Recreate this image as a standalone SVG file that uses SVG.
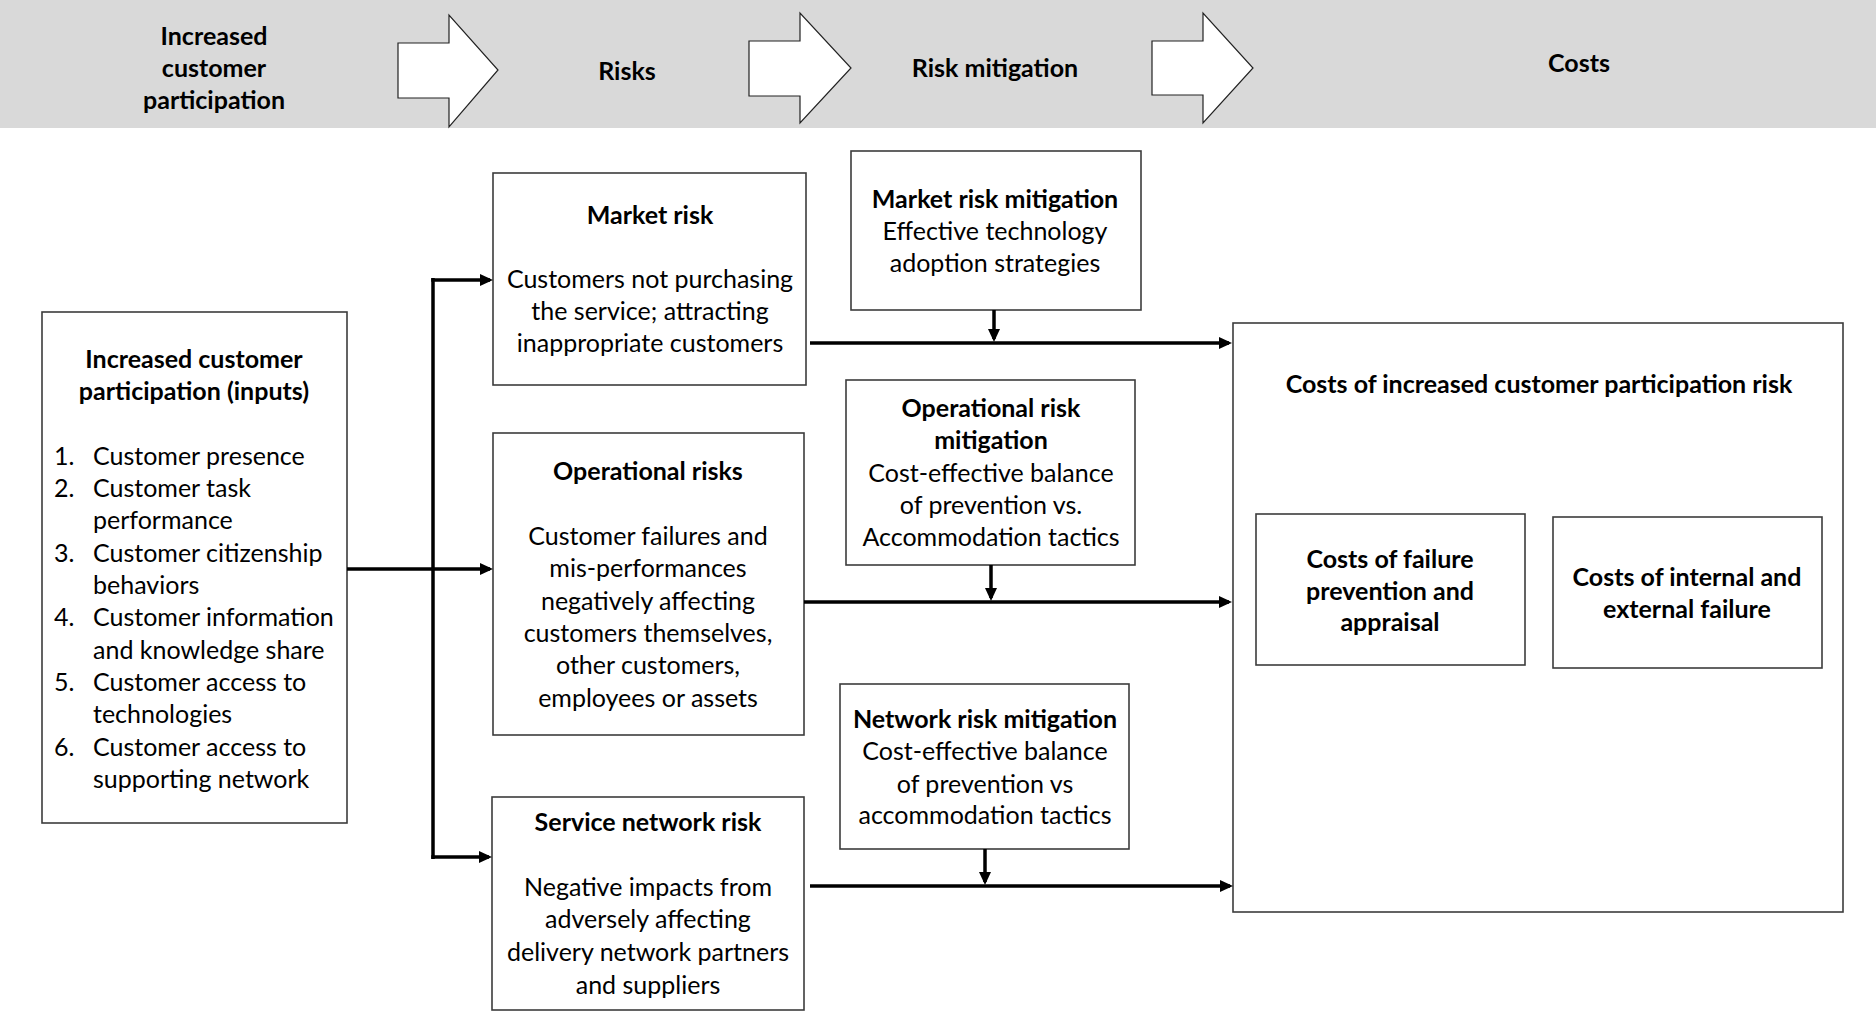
<svg xmlns="http://www.w3.org/2000/svg" width="1876" height="1012" viewBox="0 0 1876 1012">
<defs>
<style>
.box{fill:#fff;stroke:#3c3c3c;stroke-width:1.6}
.t{font-family:Lato,"Open Sans",sans-serif;font-size:25px;fill:#000;text-anchor:middle}
.l{text-anchor:start}
.b{font-weight:bold}
.conn{stroke:#000;stroke-width:3.5;fill:none}
.harrow{fill:#fff;stroke:#222;stroke-width:1.2}
</style>
<marker id="ah" markerUnits="userSpaceOnUse" markerWidth="14" markerHeight="12" viewBox="0 0 14 12" refX="10" refY="6" orient="auto">
<path d="M0,0 L13,6 L0,12 z" fill="#000"/>
</marker>
</defs>
<rect width="1876" height="1012" fill="#fff"/>
<g id="header">
<rect x="0" y="0" width="1876" height="128" fill="#d9d9d9"/>
<polygon class="harrow" points="398,43 449,43 449,15 498,70 449,127 449,98 398,98"/>
<polygon class="harrow" points="749,41 800,41 800,13 851,68 800,123 800,96 749,96"/>
<polygon class="harrow" points="1152,41 1203,41 1203,13 1253,68 1203,123 1203,95 1152,95"/>
<text class="t b" x="214" y="45">Increased</text>
<text class="t b" x="214" y="77">customer</text>
<text class="t b" x="214" y="109">participation</text>
<text class="t b" x="627" y="80">Risks</text>
<text class="t b" x="995" y="77">Risk mitigation</text>
<text class="t b" x="1579" y="72">Costs</text>
</g>
<g id="inputs">
<rect class="box" x="42" y="312" width="305" height="511"/>
<text class="t b" x="194" y="368">Increased customer</text>
<text class="t b" x="194" y="400">participation (inputs)</text>
<text class="t l" x="54" y="465">1.</text><text class="t l" x="93" y="465">Customer presence</text>
<text class="t l" x="54" y="497">2.</text><text class="t l" x="93" y="497">Customer task</text>
<text class="t l" x="93" y="529">performance</text>
<text class="t l" x="54" y="562">3.</text><text class="t l" x="93" y="562">Customer citizenship</text>
<text class="t l" x="93" y="594">behaviors</text>
<text class="t l" x="54" y="626">4.</text><text class="t l" x="93" y="626">Customer information</text>
<text class="t l" x="93" y="659">and knowledge share</text>
<text class="t l" x="54" y="691">5.</text><text class="t l" x="93" y="691">Customer access to</text>
<text class="t l" x="93" y="723">technologies</text>
<text class="t l" x="54" y="756">6.</text><text class="t l" x="93" y="756">Customer access to</text>
<text class="t l" x="93" y="788">supporting network</text>
</g>
<g id="market-risk">
<rect class="box" x="493" y="173" width="313" height="212"/>
<text class="t b" x="650" y="224">Market risk</text>
<text class="t" x="650" y="288">Customers not purchasing</text>
<text class="t" x="650" y="320">the service; attracting</text>
<text class="t" x="650" y="352">inappropriate customers</text>
</g>
<g id="market-mitigation">
<rect class="box" x="851" y="151" width="290" height="159"/>
<text class="t b" x="995" y="208">Market risk mitigation</text>
<text class="t" x="995" y="240">Effective technology</text>
<text class="t" x="995" y="272">adoption strategies</text>
</g>
<g id="operational-risks">
<rect class="box" x="493" y="433" width="311" height="302"/>
<text class="t b" x="648" y="480">Operational risks</text>
<text class="t" x="648" y="545">Customer failures and</text>
<text class="t" x="648" y="577">mis-performances</text>
<text class="t" x="648" y="610">negatively affecting</text>
<text class="t" x="648" y="642">customers themselves,</text>
<text class="t" x="648" y="674">other customers,</text>
<text class="t" x="648" y="707">employees or assets</text>
</g>
<g id="operational-mitigation">
<rect class="box" x="846" y="380" width="289" height="185"/>
<text class="t b" x="991" y="417">Operational risk</text>
<text class="t b" x="991" y="449">mitigation</text>
<text class="t" x="991" y="482">Cost-effective balance</text>
<text class="t" x="991" y="514">of prevention vs.</text>
<text class="t" x="991" y="546">Accommodation tactics</text>
</g>
<g id="service-network-risk">
<rect class="box" x="492" y="797" width="312" height="213"/>
<text class="t b" x="648" y="831">Service network risk</text>
<text class="t" x="648" y="896">Negative impacts from</text>
<text class="t" x="648" y="928">adversely affecting</text>
<text class="t" x="648" y="961">delivery network partners</text>
<text class="t" x="648" y="994">and suppliers</text>
</g>
<g id="network-mitigation">
<rect class="box" x="840" y="684" width="289" height="165"/>
<text class="t b" x="985" y="728">Network risk mitigation</text>
<text class="t" x="985" y="760">Cost-effective balance</text>
<text class="t" x="985" y="793">of prevention vs</text>
<text class="t" x="985" y="824">accommodation tactics</text>
</g>
<g id="costs">
<rect class="box" x="1233" y="323" width="610" height="589"/>
<text class="t b" x="1539" y="393">Costs of increased customer participation risk</text>
</g>
<g id="costs-prevention">
<rect class="box" x="1256" y="514" width="269" height="151"/>
<text class="t b" x="1390" y="568">Costs of failure</text>
<text class="t b" x="1390" y="600">prevention and</text>
<text class="t b" x="1390" y="631">appraisal</text>
</g>
<g id="costs-failure">
<rect class="box" x="1553" y="517" width="269" height="151"/>
<text class="t b" x="1687" y="586">Costs of internal and</text>
<text class="t b" x="1687" y="618">external failure</text>
</g>
<g id="connectors">
<line class="conn" x1="347" y1="569" x2="490" y2="569" marker-end="url(#ah)"/>
<line class="conn" x1="433" y1="278" x2="433" y2="859"/>
<line class="conn" x1="431.25" y1="280" x2="490" y2="280" marker-end="url(#ah)"/>
<line class="conn" x1="431.25" y1="857" x2="489" y2="857" marker-end="url(#ah)"/>
<line class="conn" x1="810" y1="343" x2="1229" y2="343" marker-end="url(#ah)"/>
<line class="conn" x1="804" y1="602" x2="1229" y2="602" marker-end="url(#ah)"/>
<line class="conn" x1="810" y1="886" x2="1230" y2="886" marker-end="url(#ah)"/>
<line class="conn" x1="994" y1="310" x2="994" y2="339" marker-end="url(#ah)"/>
<line class="conn" x1="991" y1="565" x2="991" y2="598" marker-end="url(#ah)"/>
<line class="conn" x1="985" y1="849" x2="985" y2="882" marker-end="url(#ah)"/>
</g>
</svg>
